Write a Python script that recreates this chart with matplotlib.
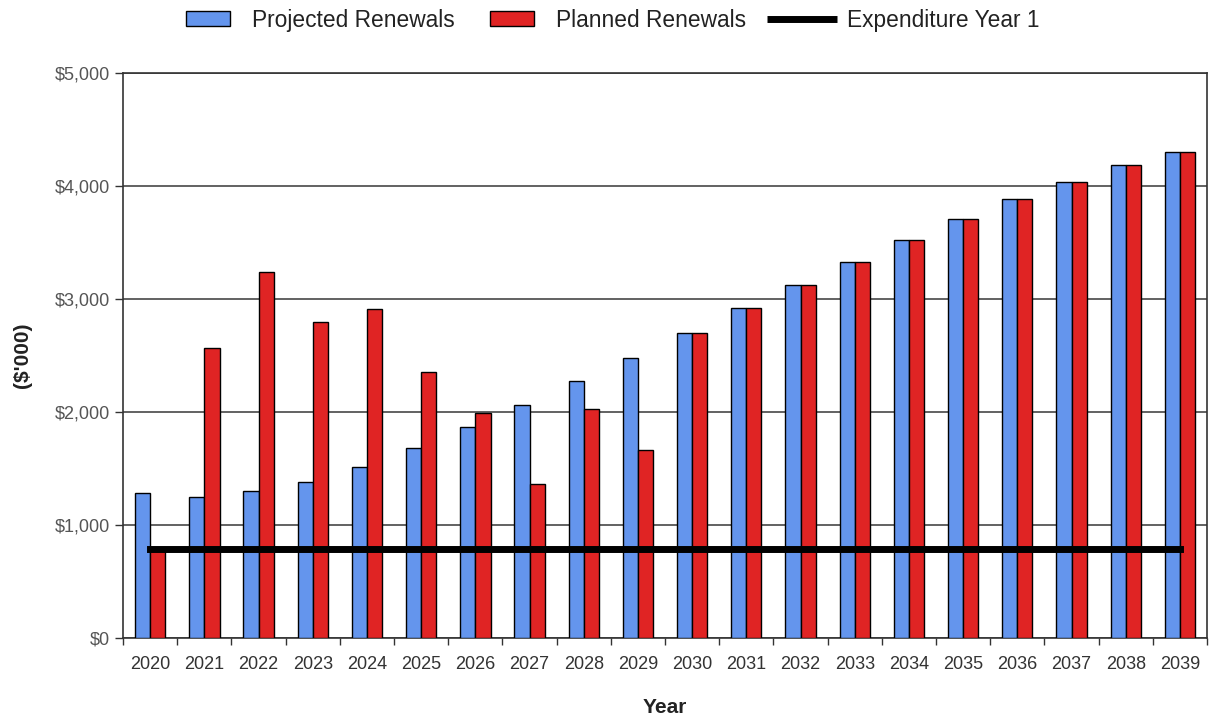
import numpy as np
import matplotlib
matplotlib.use("Agg")
import matplotlib.pyplot as plt
from matplotlib.patches import Patch
from matplotlib.lines import Line2D
from matplotlib.legend_handler import HandlerBase
from matplotlib.ticker import FuncFormatter, FixedLocator

plt.rcParams['font.family'] = ['Liberation Sans', 'DejaVu Sans']

# data ($'000)
years = list(range(2020, 2040))
projected = [1283, 1248, 1301, 1383, 1516, 1678, 1864, 2059, 2277, 2481,
             2696, 2920, 3124, 3330, 3522, 3705, 3882, 4038, 4186, 4304]
planned = [780, 2566, 3242, 2794, 2909, 2357, 1988, 1363, 2027, 1664,
           2696, 2920, 3124, 3330, 3522, 3705, 3882, 4038, 4186, 4304]
expenditure_y1 = [790] * len(years)

BLUE = '#6495ED'
RED = '#E02424'


class WideLineHandler(HandlerBase):
    # legend line sticks out past the patch-sized handle box
    def create_artists(self, legend, orig_handle, xdescent, ydescent,
                       width, height, fontsize, trans):
        y = height / 2 - ydescent
        ln = Line2D([-xdescent - 0.32 * width, -xdescent + 1.27 * width], [y, y],
                    color=orig_handle.get_color(), linewidth=orig_handle.get_linewidth(),
                    solid_capstyle='butt', transform=trans)
        return [ln]


fig = plt.figure(figsize=(12.11, 7.17), dpi=100)
ax = fig.add_axes([0.1016, 0.1102, 0.8951, 0.788])

x = np.arange(len(years))
w = 0.28
ax.bar(x - w / 2, projected, w, color=BLUE, edgecolor='black', linewidth=1, zorder=3)
ax.bar(x + w / 2, planned, w, color=RED, edgecolor='black', linewidth=1, zorder=3)
ax.plot(x, expenditure_y1, color='black', linewidth=5, solid_capstyle='projecting', zorder=4)

ax.set_xlim(-0.5, len(years) - 0.5)
ax.set_ylim(0, 5000)
ax.set_yticks(range(0, 5001, 1000))
ax.yaxis.set_major_formatter(FuncFormatter(lambda v, p: f"${int(v):,}"))
ax.grid(axis='y', color='#555555', linewidth=1.3, zorder=1)

# category boundaries as ticks, year labels at centres
ax.xaxis.set_major_locator(FixedLocator(np.arange(-0.5, len(years), 1)))
ax.set_xticklabels([])
ax.xaxis.set_minor_locator(FixedLocator(x))
ax.set_xticklabels(years, minor=True)
ax.tick_params(axis='x', which='major', length=5, width=1, color='#333333')
ax.tick_params(axis='x', which='minor', length=0, pad=13, labelsize=13, labelcolor='#333333')
ax.tick_params(axis='y', length=6, width=1, color='#333333', pad=3.5,
               labelsize=13, labelcolor='#555555')

for s in ax.spines.values():
    s.set_color('#333333')
    s.set_linewidth(1.2)

ax.set_xlabel('Year', fontsize=15, fontweight='bold', color='#222222')
ax.xaxis.set_label_coords(0.5, -0.106)
ax.set_ylabel("($'000)", fontsize=15, fontweight='bold', color='#222222')
ax.yaxis.set_label_coords(-0.084, 0.5)

exp_line = Line2D([], [], color='black', linewidth=5, label='Expenditure Year 1')
handles = [Patch(facecolor=BLUE, edgecolor='black', label='Projected Renewals'),
           Patch(facecolor=RED, edgecolor='black', label='Planned Renewals'),
           exp_line]
fig.legend(handles=handles, loc='center', bbox_to_anchor=(0.506, 0.972), ncol=3,
           frameon=False, fontsize=16.4, handlelength=1.93, handleheight=0.6,
           columnspacing=1.53, handletextpad=0.97, labelcolor='#222222',
           handler_map={exp_line: WideLineHandler()})

fig.savefig('out.png', dpi=100)
